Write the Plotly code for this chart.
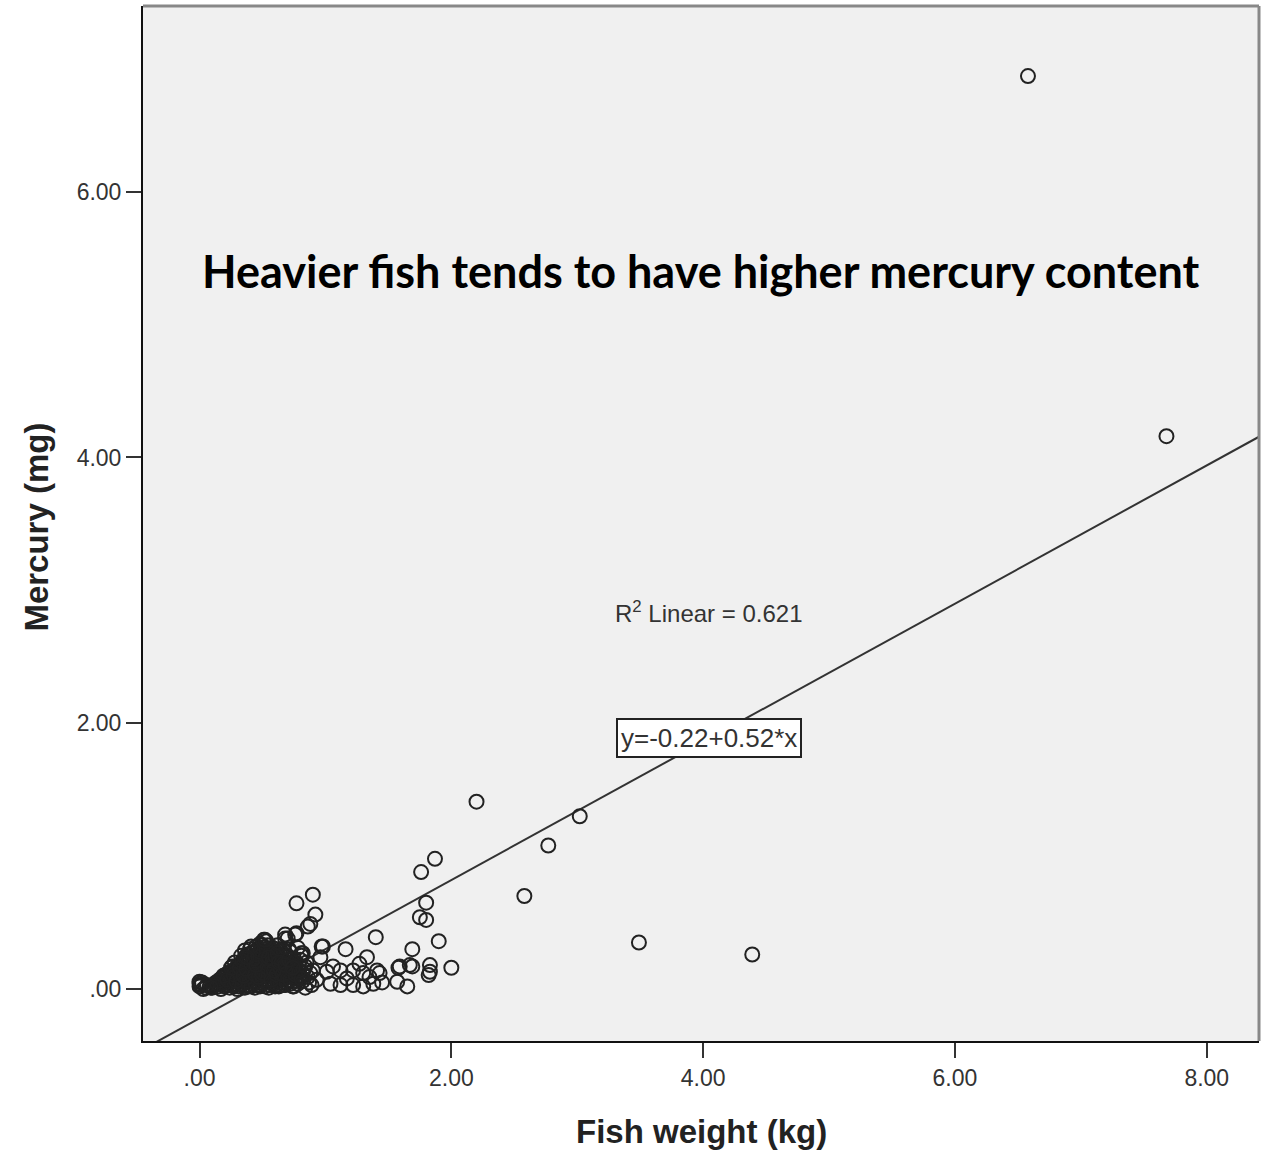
import plotly.graph_objects as go

# ---- data ----
fish_weight = [
    # left tip
    0.00, 0.01, 0.02, 0.00, 0.05, 0.08, 0.00, 0.03,
    # dense cluster
    0.10, 0.12, 0.13, 0.15, 0.16, 0.17, 0.18, 0.19, 0.20, 0.20,
    0.21, 0.22, 0.23, 0.24, 0.25, 0.25, 0.26, 0.27, 0.28, 0.28, 0.29, 0.30, 0.30,
    0.31, 0.31, 0.32, 0.33, 0.33, 0.34, 0.35, 0.35, 0.36, 0.36, 0.37, 0.37, 0.38, 0.38, 0.39, 0.39, 0.40, 0.40,
    0.41, 0.41, 0.42, 0.42, 0.43, 0.43, 0.44, 0.44, 0.45, 0.45, 0.46, 0.46, 0.47, 0.47, 0.48, 0.48, 0.49, 0.49, 0.50, 0.50,
    0.51, 0.51, 0.52, 0.52, 0.53, 0.53, 0.54, 0.54, 0.55, 0.55, 0.56, 0.56, 0.57, 0.57, 0.58, 0.58, 0.59, 0.59, 0.60, 0.60,
    0.61, 0.61, 0.62, 0.62, 0.63, 0.63, 0.64, 0.64, 0.65, 0.65, 0.66, 0.66, 0.67, 0.68, 0.68, 0.69, 0.70, 0.70,
    0.71, 0.72, 0.72, 0.73, 0.74, 0.74, 0.75, 0.76, 0.77, 0.78, 0.78, 0.79, 0.80, 0.81, 0.82, 0.83, 0.84, 0.85, 0.86, 0.88, 0.89,
    # more of the dense cluster
    0.14, 0.18, 0.21, 0.23, 0.24, 0.26, 0.27, 0.29, 0.30, 0.31,
    0.32, 0.33, 0.34, 0.34, 0.35, 0.36, 0.37, 0.38, 0.38, 0.39,
    0.40, 0.40, 0.41, 0.42, 0.42, 0.43, 0.43, 0.44, 0.44, 0.45,
    0.45, 0.46, 0.46, 0.47, 0.47, 0.48, 0.48, 0.49, 0.49, 0.50,
    0.50, 0.51, 0.51, 0.52, 0.52, 0.53, 0.53, 0.54, 0.54, 0.55,
    0.55, 0.56, 0.56, 0.57, 0.57, 0.58, 0.58, 0.59, 0.59, 0.60,
    0.60, 0.61, 0.61, 0.62, 0.62, 0.63, 0.63, 0.64, 0.64, 0.65,
    0.65, 0.66, 0.66, 0.67, 0.67, 0.68, 0.69, 0.69, 0.70, 0.70,
    0.71, 0.71, 0.72, 0.73, 0.73, 0.74, 0.75, 0.75, 0.76, 0.77,
    0.78, 0.79, 0.80, 0.82, 0.84, 0.87, 0.36, 0.33, 0.28, 0.26,
    # third layer of the dense cluster
    0.11, 0.15, 0.19, 0.22, 0.25, 0.27, 0.29, 0.32, 0.34, 0.35,
    0.37, 0.39, 0.41, 0.43, 0.44, 0.46, 0.47, 0.49, 0.50, 0.52,
    0.53, 0.54, 0.56, 0.57, 0.58, 0.60, 0.61, 0.62, 0.64, 0.65,
    0.66, 0.67, 0.69, 0.70, 0.72, 0.73, 0.75, 0.76, 0.79, 0.81,
    0.06, 0.09, 0.45, 0.48, 0.55, 0.59, 0.63, 0.68, 0.71, 0.74,
    # upper edge of cluster
    0.51, 0.41, 0.36, 0.68, 0.76, 0.86, 0.81, 0.97, 0.52, 0.375,
    0.77, 0.90, 0.92, 0.88, 0.77, 0.68,
    # 0.9 - 1.5 region
    1.16, 0.98, 1.27, 1.22, 1.30, 1.35, 1.43, 1.12, 1.06, 1.17, 1.12, 1.22,
    0.96, 0.90, 1.01, 1.04, 0.93, 0.82, 1.33, 1.41, 1.45, 1.38, 1.30, 1.40,
    # 1.5 - 2.0 region
    1.59, 1.67, 1.83, 1.83, 2.00, 1.57, 1.65, 1.82, 1.69, 1.58,
    1.87, 1.76, 1.80, 1.75, 1.80, 1.90, 1.69,
    # outliers
    2.20, 2.58, 2.77, 3.02, 3.49, 4.39, 6.58, 7.68,
]
mercury = [
    0.04, 0.03, 0.05, 0.02, 0.01, 0.02, 0.055, 0.00,
    0.01, 0.03, 0.05, 0.02, 0.07, 0.00, 0.04, 0.09, 0.02, 0.06,
    0.11, 0.03, 0.08, 0.01, 0.13, 0.05, 0.10, 0.02, 0.15, 0.07, 0.04, 0.12, 0.00,
    0.18, 0.06, 0.09, 0.03, 0.14, 0.20, 0.07, 0.11, 0.01, 0.16, 0.24, 0.05, 0.09, 0.13, 0.19, 0.02, 0.22, 0.07,
    0.11, 0.27, 0.04, 0.15, 0.18, 0.08, 0.01, 0.25, 0.12, 0.06, 0.21, 0.30, 0.03, 0.16, 0.10, 0.23, 0.05, 0.14, 0.19, 0.33,
    0.08, 0.27, 0.02, 0.12, 0.17, 0.36, 0.22, 0.06, 0.29, 0.10, 0.15, 0.03, 0.25, 0.20, 0.09, 0.31, 0.13, 0.04, 0.18, 0.27,
    0.07, 0.22, 0.11, 0.33, 0.02, 0.16, 0.26, 0.09, 0.20, 0.05, 0.13, 0.30, 0.17, 0.03, 0.24, 0.10, 0.14, 0.38,
    0.06, 0.20, 0.28, 0.11, 0.02, 0.16, 0.23, 0.08, 0.13, 0.31, 0.04, 0.18, 0.10, 0.25, 0.06, 0.15, 0.01, 0.20, 0.09, 0.12, 0.03,
    0.04, 0.08, 0.05, 0.12, 0.09, 0.03, 0.14, 0.10, 0.17, 0.02,
    0.13, 0.19, 0.08, 0.04, 0.22, 0.12, 0.18, 0.06, 0.26, 0.15,
    0.10, 0.30, 0.02, 0.21, 0.09, 0.13, 0.28, 0.17, 0.05, 0.24,
    0.32, 0.08, 0.14, 0.27, 0.20, 0.02, 0.34, 0.11, 0.25, 0.07,
    0.15, 0.22, 0.31, 0.05, 0.18, 0.26, 0.10, 0.14, 0.33, 0.01,
    0.20, 0.24, 0.08, 0.12, 0.30, 0.17, 0.05, 0.22, 0.28, 0.10,
    0.02, 0.15, 0.30, 0.19, 0.06, 0.24, 0.12, 0.03, 0.18, 0.28,
    0.13, 0.08, 0.22, 0.03, 0.26, 0.15, 0.20, 0.05, 0.09, 0.25,
    0.14, 0.30, 0.04, 0.18, 0.22, 0.09, 0.13, 0.02, 0.20, 0.06,
    0.15, 0.09, 0.22, 0.12, 0.17, 0.05, 0.29, 0.25, 0.20, 0.17,
    0.02, 0.06, 0.10, 0.07, 0.16, 0.11, 0.06, 0.16, 0.21, 0.10,
    0.15, 0.24, 0.19, 0.23, 0.11, 0.26, 0.09, 0.29, 0.12, 0.23,
    0.30, 0.16, 0.27, 0.07, 0.21, 0.25, 0.11, 0.27, 0.16, 0.20,
    0.11, 0.19, 0.17, 0.12, 0.07, 0.15, 0.17, 0.11, 0.14, 0.08,
    0.03, 0.01, 0.18, 0.28, 0.24, 0.14, 0.20, 0.18, 0.22, 0.16,
    0.37, 0.32, 0.24, 0.41, 0.41, 0.47, 0.27, 0.32, 0.37, 0.24,
    0.645, 0.71, 0.56, 0.49, 0.42, 0.38,
    0.30, 0.32, 0.19, 0.14, 0.12, 0.09, 0.12, 0.14, 0.17, 0.08, 0.03, 0.03,
    0.24, 0.14, 0.13, 0.04, 0.07, 0.27, 0.24, 0.14, 0.05, 0.04, 0.02, 0.39,
    0.17, 0.18, 0.18, 0.13, 0.16, 0.055, 0.02, 0.105, 0.30, 0.16,
    0.98, 0.88, 0.65, 0.54, 0.52, 0.36, 0.17,
    1.41, 0.70, 1.08, 1.30, 0.35, 0.26, 6.87, 4.16,
]

intercept = -0.22
slope = 0.52
r_squared = 0.621

tick_vals = [0, 2, 4, 6, 8]
x_tick_text = [".00", "2.00", "4.00", "6.00", "8.00"]
y_tick_text = [".00", "2.00", "4.00", "6.00", "8.00"]

x_range = [-0.449, 8.415]
y_range = [-0.391, 7.397]

title_text = "Heavier fish tends to have higher mercury content"

# ---- figure ----
fig = go.Figure()

line_x = [x_range[0], x_range[1]]
line_y = [intercept + slope * v for v in line_x]
fig.add_trace(go.Scatter(
    x=line_x, y=line_y, mode="lines",
    line=dict(color="#333333", width=2), hoverinfo="skip", showlegend=False,
))

fig.add_trace(go.Scatter(
    x=fish_weight, y=mercury, mode="markers",
    marker=dict(symbol="circle-open", size=14, color="#222222", line=dict(width=2, color="#222222")),
    showlegend=False,
))

axis_font = dict(family="Liberation Sans, Arial, sans-serif", size=23, color="#333333")

fig.update_xaxes(
    range=x_range, tickvals=tick_vals, ticktext=x_tick_text,
    showgrid=False, zeroline=False,
    showline=True, linecolor="#111111", linewidth=2,
    ticks="outside", ticklen=15, tickwidth=2, tickcolor="#333333",
    tickfont=axis_font,
)
fig.update_yaxes(
    range=y_range, tickvals=tick_vals, ticktext=y_tick_text,
    showgrid=False, zeroline=False,
    showline=True, linecolor="#111111", linewidth=2,
    ticks="outside", ticklen=15, tickwidth=2, tickcolor="#333333",
    tickfont=axis_font,
)

fig.add_shape(type="line", xref="paper", yref="paper", x0=0, x1=1, y0=1, y1=1,
              line=dict(color="#888888", width=3))
fig.add_shape(type="line", xref="paper", yref="paper", x0=1, x1=1, y0=0, y1=1,
              line=dict(color="#888888", width=3))

annotations = [
    dict(x=3.98, y=5.40, xref="x", yref="y", text="<b>" + title_text + "</b>",
         showarrow=False, font=dict(family="Lato, Open Sans, sans-serif", size=45, color="#000000")),
    dict(x=4.04, y=2.84, xref="x", yref="y",
         text="R<sup>2</sup> Linear = %.3f" % r_squared, showarrow=False,
         font=dict(family="Liberation Sans, Arial, sans-serif", size=24, color="#333333")),
    dict(x=4.05, y=1.89, xref="x", yref="y",
         text="y=%.2f+%.2f*x" % (intercept, slope), showarrow=False,
         font=dict(family="Liberation Sans, Arial, sans-serif", size=26, color="#333333"),
         bgcolor="#ffffff", bordercolor="#222222", borderwidth=2, borderpad=3),
    dict(x=0.5, y=-0.087, xref="paper", yref="paper", text="<b>Fish weight (kg)</b>",
         xanchor="center", yanchor="middle",
         showarrow=False, font=dict(family="Liberation Sans, Arial, sans-serif", size=33, color="#222222")),
    dict(x=-0.095, y=0.497, xref="paper", yref="paper", text="<b>Mercury (mg)</b>",
         xanchor="center", yanchor="middle",
         textangle=-90, showarrow=False,
         font=dict(family="Liberation Sans, Arial, sans-serif", size=33, color="#222222")),
]
fig.update_layout(
    width=1273, height=1151,
    margin=dict(l=143, r=14, t=6, b=110),
    paper_bgcolor="#ffffff", plot_bgcolor="#f0f0f0",
    annotations=annotations,
)

fig.write_html("out.html", config={"displayModeBar": False},
               post_script="document.body.style.margin='0px';")
